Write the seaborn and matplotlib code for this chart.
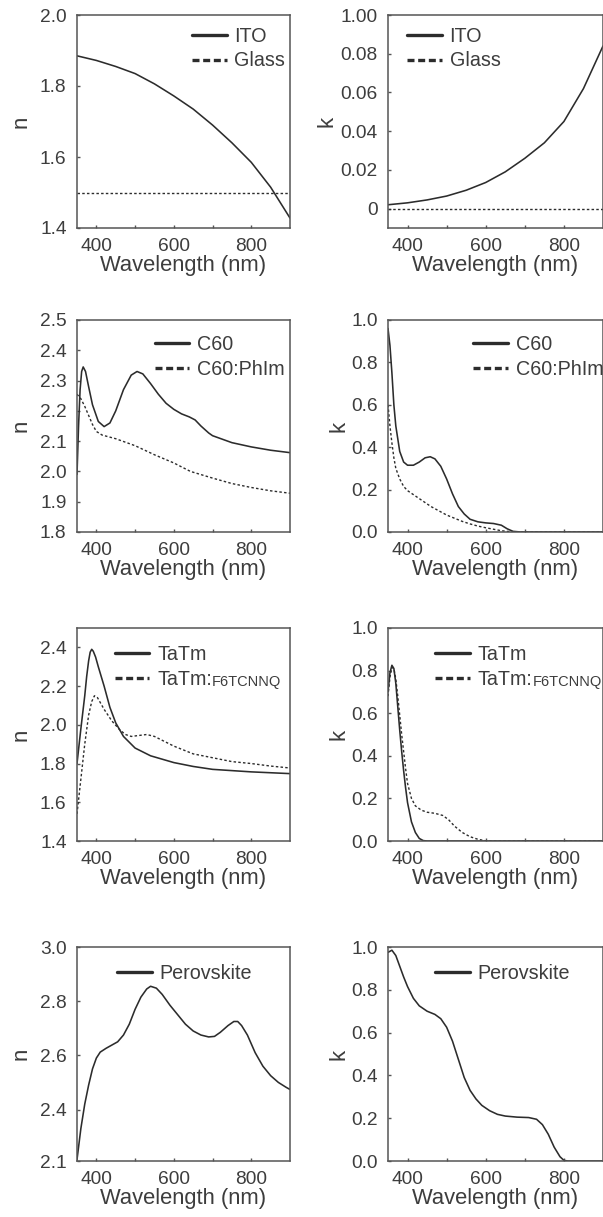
import numpy as np
import pandas as pd
import matplotlib
matplotlib.use("Agg")
import matplotlib.pyplot as plt
import seaborn as sns
from matplotlib.lines import Line2D

# ---------------- data ----------------
ito_wl = [350, 400, 450, 500, 550, 600, 650, 700, 750, 800, 850, 900]
ito_n = [1.885, 1.872, 1.855, 1.835, 1.806, 1.772, 1.735, 1.69, 1.64, 1.585, 1.515, 1.428]
ito_k = [0.002, 0.003, 0.0045, 0.0065, 0.0095, 0.0135, 0.019, 0.026, 0.034, 0.045, 0.062, 0.084]
glass_wl = [350, 900]
glass_n = [1.5, 1.5]
glass_k = [0.0, 0.0]

c60_n_wl = [350, 354, 358, 362, 366, 372, 380, 390, 405, 420, 435, 450, 470, 490, 505, 520, 540,
            560, 580, 600, 620, 640, 655, 670, 690, 700, 750, 800, 850, 900]
c60_n = [1.99, 2.15, 2.27, 2.33, 2.345, 2.33, 2.28, 2.22, 2.165, 2.148, 2.16, 2.2, 2.27, 2.318, 2.33,
         2.322, 2.29, 2.255, 2.225, 2.205, 2.19, 2.18, 2.17, 2.15, 2.127, 2.118, 2.095, 2.081, 2.07, 2.062]
c60ph_n_wl = [350, 360, 370, 380, 390, 400, 415, 450, 500, 550, 600, 643, 700, 750, 800, 850, 900]
c60ph_n = [2.255, 2.24, 2.215, 2.185, 2.155, 2.132, 2.12, 2.108, 2.085, 2.055, 2.028, 2.0, 1.978,
           1.96, 1.947, 1.936, 1.928]

c60_k_wl = [350, 355, 360, 365, 370, 380, 390, 400, 415, 430, 445, 458, 470, 485, 500, 515, 530, 545,
            560, 580, 600, 620, 640, 655, 670, 690, 900]
c60_k = [0.96, 0.88, 0.75, 0.6, 0.5, 0.38, 0.33, 0.315, 0.315, 0.33, 0.35, 0.355, 0.345, 0.31, 0.25,
         0.18, 0.12, 0.085, 0.06, 0.048, 0.043, 0.04, 0.032, 0.015, 0.003, 0.0, 0.0]
c60ph_k_wl = [350, 355, 360, 365, 370, 380, 390, 400, 420, 440, 460, 480, 500, 520, 540, 560, 580,
              600, 620, 640, 660, 680, 900]
c60ph_k = [0.6, 0.5, 0.42, 0.35, 0.3, 0.25, 0.215, 0.195, 0.17, 0.145, 0.12, 0.1, 0.08, 0.065, 0.05,
           0.038, 0.028, 0.02, 0.013, 0.006, 0.002, 0.0, 0.0]

tatm_n_wl = [350, 360, 370, 375, 380, 384, 388, 392, 398, 405, 420, 435, 450, 470, 500, 540, 600,
             650, 700, 800, 900]
tatm_n = [1.8, 1.98, 2.15, 2.25, 2.33, 2.375, 2.39, 2.38, 2.35, 2.3, 2.2, 2.09, 2.01, 1.94, 1.88,
          1.84, 1.805, 1.785, 1.77, 1.757, 1.748]
tatmf_n_wl = [350, 360, 370, 380, 388, 395, 403, 420, 440, 460, 475, 490, 510, 530, 550, 570, 600,
              650, 700, 750, 800, 850, 900]
tatmf_n = [1.54, 1.72, 1.9, 2.05, 2.12, 2.15, 2.14, 2.08, 2.02, 1.975, 1.95, 1.94, 1.945, 1.95, 1.94,
           1.92, 1.89, 1.85, 1.83, 1.81, 1.8, 1.787, 1.777]

tatm_k_wl = [350, 355, 360, 365, 370, 375, 380, 385, 390, 395, 400, 410, 420, 430, 440, 450, 900]
tatm_k = [0.7, 0.79, 0.825, 0.81, 0.74, 0.63, 0.52, 0.42, 0.33, 0.25, 0.18, 0.09, 0.04, 0.012,
          0.002, 0.0, 0.0]
tatmf_k_wl = [350, 355, 360, 365, 370, 375, 380, 385, 390, 395, 400, 410, 420, 435, 450, 470, 490,
              505, 520, 540, 560, 580, 600, 620, 900]
tatmf_k = [0.68, 0.77, 0.815, 0.81, 0.76, 0.68, 0.59, 0.5, 0.42, 0.34, 0.27, 0.2, 0.165, 0.145,
           0.135, 0.13, 0.12, 0.1, 0.07, 0.04, 0.02, 0.008, 0.001, 0.0, 0.0]

pero_n_wl = [350, 360, 370, 380, 390, 400, 410, 425, 440, 455, 470, 485, 500, 515, 530, 540, 555,
             570, 590, 610, 630, 650, 670, 690, 705, 720, 740, 755, 765, 775, 790, 810, 830, 850,
             870, 890, 900]
pero_n = [2.215, 2.33, 2.42, 2.49, 2.55, 2.59, 2.612, 2.626, 2.638, 2.65, 2.675, 2.715, 2.77, 2.815,
          2.845, 2.855, 2.848, 2.825, 2.785, 2.75, 2.715, 2.69, 2.675, 2.668, 2.67, 2.685, 2.71,
          2.725, 2.725, 2.71, 2.675, 2.61, 2.56, 2.525, 2.5, 2.482, 2.474]
pero_k_wl = [350, 360, 370, 380, 390, 400, 415, 430, 450, 470, 485, 500, 515, 530, 545, 560, 575,
             590, 610, 630, 650, 680, 710, 730, 745, 760, 775, 790, 800, 810, 900]
pero_k = [0.975, 0.985, 0.96, 0.91, 0.86, 0.815, 0.76, 0.725, 0.7, 0.685, 0.665, 0.625, 0.56, 0.475,
          0.39, 0.33, 0.29, 0.26, 0.235, 0.218, 0.21, 0.205, 0.203, 0.195, 0.17, 0.125, 0.065, 0.02,
          0.003, 0.0, 0.0]

x_major = [400, 600, 800]
x_minor = [500, 700]
yt_ito_n = [1.4, 1.6, 1.8, 2.0]
yt_ito_k = [0.0, 0.02, 0.04, 0.06, 0.08, 0.10]
yl_ito_k = ["0", "0.02", "0.04", "0.06", "0.08", "1.00"]
yt_c60_n = [1.8, 1.9, 2.0, 2.1, 2.2, 2.3, 2.4, 2.5]
yt_k = [0.0, 0.2, 0.4, 0.6, 0.8, 1.0]
yt_tatm_n = [1.4, 1.6, 1.8, 2.0, 2.2, 2.4]
yt_pero_n = [2.21, 2.4, 2.6, 2.8, 3.0]
yl_pero_n = ["2.1", "2.4", "2.6", "2.8", "3.0"]

# ---------------- style ----------------
sns.set_style("ticks")
plt.rcParams["font.family"] = ["Liberation Sans", "DejaVu Sans"]
TXT = "#3d3d3d"
LINE = "#2c2c2c"
SPINE = "#555555"
FS_TICK = 13.8
FS_LEG = 14.2
FS_XLAB = 15.8
FS_YLAB = 16
plt.rcParams.update({
    "text.color": TXT, "axes.labelcolor": TXT,
    "xtick.color": SPINE, "ytick.color": SPINE,
    "xtick.labelcolor": TXT, "ytick.labelcolor": TXT,
    "axes.edgecolor": SPINE, "axes.linewidth": 1.1,
    "xtick.direction": "in", "ytick.direction": "in",
    "xtick.major.size": 2.5, "ytick.major.size": 2.5, "xtick.minor.size": 2.5,
    "xtick.major.width": 1.0, "ytick.major.width": 1.0, "xtick.minor.width": 1.0,
    "xtick.major.pad": 7.0, "ytick.major.pad": 7.5,
    "xtick.labelsize": FS_TICK, "ytick.labelsize": FS_TICK,
})

W, H = 603, 1217
fig = plt.figure(figsize=(W / 100, H / 100), dpi=100)

tops = [15, 320, 628, 947]
bots = [228, 532, 841, 1161]
col_left = [77, 388]
col_w = [213, 215]

SOLID = dict(lw=1.15, ls="-")
DOT = dict(lw=1.0, ls=(0, (1.8, 1.6)))
H_SOLID = Line2D([], [], color=LINE, lw=2.4, ls="-")
H_DASH = Line2D([], [], color=LINE, lw=2.4, ls=(0, (2.1, 1.1)))

panels = [
    dict(r=0, c=0, ylab="n", ylim=(1.4, 2.0), yt=yt_ito_n, yl=None,
         series=[(ito_wl, ito_n, SOLID), (glass_wl, glass_n, DOT)],
         leg=[("ITO", H_SOLID), ("Glass", H_DASH)], la=(0.54, 0.946)),
    dict(r=0, c=1, ylab="k", ylim=(-0.01, 0.10), yt=yt_ito_k, yl=yl_ito_k,
         series=[(ito_wl, ito_k, SOLID), (glass_wl, glass_k, DOT)],
         leg=[("ITO", H_SOLID), ("Glass", H_DASH)], la=(0.089, 0.946)),
    dict(r=1, c=0, ylab="n", ylim=(1.8, 2.5), yt=yt_c60_n, yl=None,
         series=[(c60_n_wl, c60_n, SOLID), (c60ph_n_wl, c60ph_n, DOT)],
         leg=[("C60", H_SOLID), ("C60:PhIm", H_DASH)], la=(0.366, 0.929)),
    dict(r=1, c=1, ylab="k", ylim=(0.0, 1.0), yt=yt_k, yl=None,
         series=[(c60_k_wl, c60_k, SOLID), (c60ph_k_wl, c60ph_k, DOT)],
         leg=[("C60", H_SOLID), ("C60:PhIm", H_DASH)], la=(0.397, 0.929)),
    dict(r=2, c=0, ylab="n", ylim=(1.4, 2.5), yt=yt_tatm_n, yl=None,
         series=[(tatm_n_wl, tatm_n, SOLID), (tatmf_n_wl, tatmf_n, DOT)],
         leg=[("TaTm", H_SOLID), ("TaTm:", H_DASH)], la=(0.178, 0.92), sub="F6TCNNQ"),
    dict(r=2, c=1, ylab="k", ylim=(0.0, 1.0), yt=yt_k, yl=None,
         series=[(tatm_k_wl, tatm_k, SOLID), (tatmf_k_wl, tatmf_k, DOT)],
         leg=[("TaTm", H_SOLID), ("TaTm:", H_DASH)], la=(0.22, 0.92), sub="F6TCNNQ"),
    dict(r=3, c=0, ylab="n", ylim=(2.21, 3.0), yt=yt_pero_n, yl=yl_pero_n,
         series=[(pero_n_wl, pero_n, SOLID)],
         leg=[("Perovskite", H_SOLID)], la=(0.188, 0.921)),
    dict(r=3, c=1, ylab="k", ylim=(0.0, 1.0), yt=yt_k, yl=None,
         series=[(pero_k_wl, pero_k, SOLID)],
         leg=[("Perovskite", H_SOLID)], la=(0.22, 0.921)),
]

ylab_x = {(0, 0): -0.211, (1, 0): -0.211, (2, 0): -0.211, (3, 0): -0.211,
          (0, 1): -0.234, (1, 1): -0.178, (2, 1): -0.178, (3, 1): -0.178}

sub_texts = []
for p in panels:
    r, c = p["r"], p["c"]
    x0 = col_left[c] / W
    w = col_w[c] / W
    y0 = 1 - bots[r] / H
    h = (bots[r] - tops[r]) / H
    ax = fig.add_axes([x0, y0, w, h])
    for wl, val, st in p["series"]:
        df = pd.DataFrame({"Wavelength": wl, "val": val})
        sns.lineplot(data=df, x="Wavelength", y="val", ax=ax, color=LINE,
                     estimator=None, sort=False, legend=False,
                     linewidth=st["lw"], linestyle=st["ls"])
    ax.set_xlim(350, 900)
    ax.set_ylim(*p["ylim"])
    ax.set_xticks(x_major)
    ax.set_xticks(x_minor, minor=True)
    ax.set_yticks(p["yt"])
    if p["yl"] is not None:
        ax.set_yticklabels(p["yl"])
    else:
        ax.set_yticklabels([f"{v:.1f}" for v in p["yt"]])
    ax.set_xlabel("Wavelength (nm)", fontsize=FS_XLAB, labelpad=0)
    ax.set_ylabel(p["ylab"], fontsize=FS_YLAB)
    ax.yaxis.set_label_coords(ylab_x[(r, c)], 0.5)
    for s in ax.spines.values():
        s.set_visible(True)
    labels = [l for l, _ in p["leg"]]
    handles = [hd for _, hd in p["leg"]]
    leg = ax.legend(handles, labels, loc="upper left", bbox_to_anchor=p["la"],
                    frameon=False, borderpad=0, borderaxespad=0, handlelength=1.75,
                    handletextpad=0.4, labelspacing=0.3, fontsize=FS_LEG)
    for t in leg.get_texts():
        t.set_color(TXT)
    if "sub" in p:
        sub_texts.append((leg, p["sub"]))

fig.canvas.draw()
renderer = fig.canvas.get_renderer()
for leg, sub in sub_texts:
    t = leg.get_texts()[1]
    bb = t.get_window_extent(renderer)
    fig.text(bb.x1 / W, bb.y0 / H, sub, fontsize=10.5, color=TXT, ha="left", va="bottom")

fig.savefig("out.png", dpi=100)
